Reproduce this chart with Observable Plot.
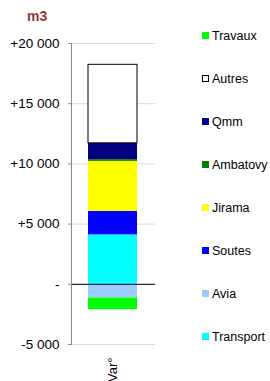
<!DOCTYPE html>
<html>
<head>
<meta charset="utf-8">
<script src="https://cdn.jsdelivr.net/npm/d3@7"></script>
<script src="https://cdn.jsdelivr.net/npm/@observablehq/plot@0.6"></script>
<style>
  html, body { margin: 0; padding: 0; background: #fff; }
  #wrap { position: relative; width: 270px; height: 381px; overflow: hidden; font-family: "Liberation Sans", Arial, sans-serif; }
  #title { position: absolute; left: 27px; top: 8px; font-size: 14px; font-weight: bold; color: #993333; }
  .leg { position: absolute; left: 202px; font-size: 12.5px; color: #000; white-space: nowrap; line-height: 14px; }
  .leg span.sw { display: inline-block; width: 7px; height: 7px; margin-right: 3px; vertical-align: 1px; box-sizing: border-box; }
</style>
</head>
<body>
<div id="wrap"><div id="title">m3</div></div>
<script>
const categories = ["Var°"];
const series = ["Transport", "Avia", "Soutes", "Jirama", "Ambatovy", "Qmm", "Autres", "Travaux"];
const values = [4100, -1140, 1950, 4160, 140, 1360, 6520, -970];
const colors = ["#00ffff", "#99ccff", "#0000ff", "#ffff00", "#008000", "#000080", "#ffffff", "#00ff00"];
const yTicks = [-5000, 0, 5000, 10000, 15000, 20000];

const data = series.map((s, i) => ({cat: categories[0], series: s, value: values[i]}));
const fmt = d => d === 0 ? "-" : (d > 0 ? "+" : "-") + d3.format(",")(Math.abs(d)).replace(/,/g, " ");

const chart = Plot.plot({
  width: 270,
  height: 381,
  marginTop: 43,
  marginBottom: 37,
  marginLeft: 71,
  marginRight: 115,
  style: {fontFamily: "'Liberation Sans', Arial, sans-serif", fontSize: "13.5px", background: "transparent", color: "#000"},
  x: {domain: categories, padding: 0.254, label: null},
  y: {domain: [-5000, 20000], ticks: yTicks, label: null},
  color: {domain: series, range: colors},
  opacity: {domain: [0, 1], range: [0, 1]},
  marks: [
    Plot.gridY(yTicks, {stroke: "#d9d9d9", strokeOpacity: 1}),
    Plot.barY(data, {x: "cat", y: "value", fill: "series", stroke: "black", strokeOpacity: d => d.series === "Autres" ? 1 : 0, strokeWidth: 1}),
    Plot.ruleY([0], {stroke: "black", strokeWidth: 1}),
    Plot.frame({anchor: "left", stroke: "#888"}),
    Plot.axisY(yTicks, {tickSize: 3, tickPadding: 9, tickFormat: fmt, stroke: "#888"}),
    Plot.axisX({tickSize: 0, tickPadding: 13, tickRotate: -90, fontSize: 13})
  ]
});
const wrap = document.getElementById("wrap");
wrap.insertBefore(chart, wrap.firstChild);
chart.style.position = "absolute";
chart.style.left = "0";
chart.style.top = "0";

// legend (top to bottom: reverse series order)
const legendOrder = series.map((s, i) => i).reverse();
legendOrder.forEach((idx, k) => {
  const div = document.createElement("div");
  div.className = "leg";
  div.style.top = (29 + k * 43) + "px";
  const sw = document.createElement("span");
  sw.className = "sw";
  sw.style.background = colors[idx];
  if (series[idx] === "Autres") sw.style.border = "1px solid #000";
  div.appendChild(sw);
  div.appendChild(document.createTextNode(series[idx]));
  wrap.appendChild(div);
});
</script>
</body>
</html>
